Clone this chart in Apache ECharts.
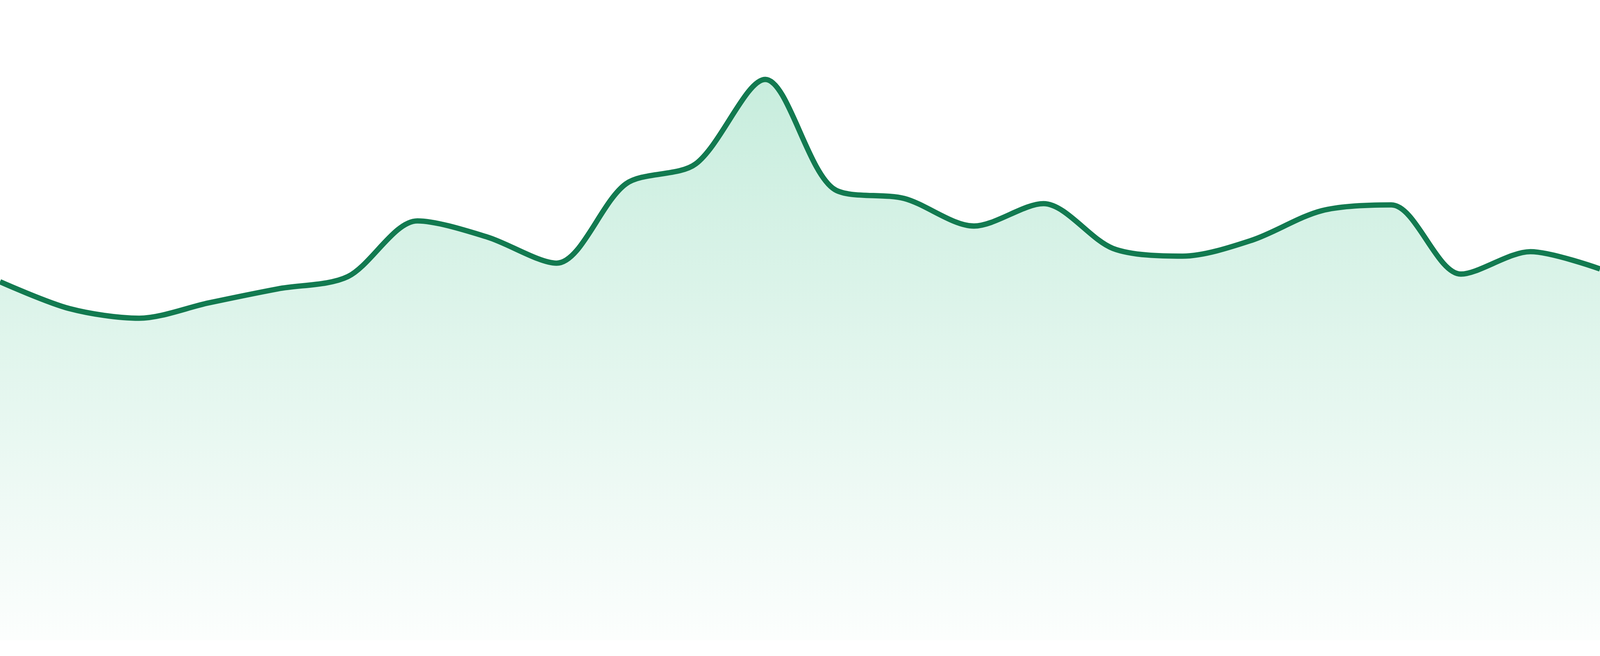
<!DOCTYPE html>
<html>
<head>
<meta charset="utf-8">
<script src="https://cdn.jsdelivr.net/npm/echarts@6/dist/echarts.min.js"></script>
<style>
  html, body { margin: 0; padding: 0; background: #ffffff; overflow: hidden; }
  #chart { width: 100vw; height: 100vh; }
</style>
</head>
<body>
<div id="chart"></div>
<script>
// x categories (no labels shown in the picture)
var days = ['1', '2', '3', '4', '5', '6', '7', '8', '9', '10', '11', '12',
    '13', '14', '15', '16', '17', '18', '19', '20', '21', '22', '23', '24'];

// values
var values = [56.0, 51.8, 50.3, 52.7, 54.9, 56.8, 65.5, 63.0, 58.9, 71.3, 74.4, 87.6,
    70.4, 69.0, 64.7, 68.2, 61.2, 60.0, 62.5, 67.1, 68.0, 57.2, 60.7, 58.0];

var yMax = 100;

// reference was drawn on a 4800px wide canvas, keep sizes proportional
var k = window.innerWidth / 4800;

var chart = echarts.init(document.getElementById('chart'));

chart.setOption({
    animation: false,
    backgroundColor: '#ffffff',
    grid: { left: 0, right: 0, top: 0, bottom: 47 * k },
    xAxis: {
        type: 'category',
        data: days,
        boundaryGap: false,
        show: false
    },
    yAxis: {
        type: 'value',
        min: 0,
        max: yMax,
        show: false
    },
    series: [{
        type: 'line',
        data: values,
        smooth: 0.3,
        symbol: 'none',
        lineStyle: { color: '#127a50', width: 16 * k },
        areaStyle: {
            color: new echarts.graphic.LinearGradient(0, 0, 0, 1, [
                { offset: 0, color: 'rgba(35,184,121,0.36)' },
                { offset: 1, color: 'rgba(35,184,121,0.02)' }
            ])
        }
    }]
});
</script>
</body>
</html>
